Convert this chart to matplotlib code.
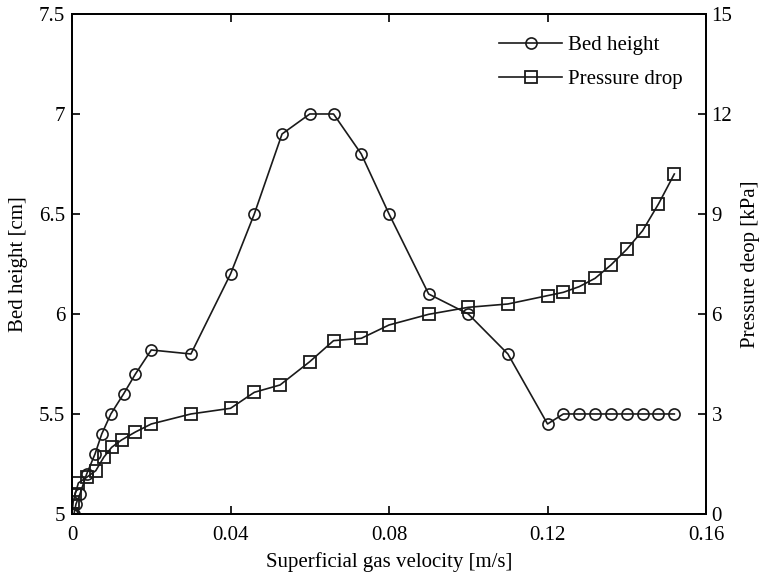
import matplotlib
matplotlib.use("Agg")
import matplotlib.pyplot as plt

plt.rcParams["font.family"] = ["Liberation Serif", "DejaVu Serif"]
plt.rcParams["font.size"] = 15

# 床高さ (cm)
vel_bed = [0, 0.0005, 0.001, 0.002, 0.0037, 0.0058, 0.0075, 0.0098, 0.013, 0.016,
           0.02, 0.03, 0.04, 0.046, 0.053, 0.06, 0.066, 0.073, 0.08, 0.09,
           0.10, 0.11, 0.12, 0.124, 0.128, 0.132, 0.136, 0.14, 0.144, 0.148, 0.152]
bed_height = [5.0, 5.0, 5.05, 5.1, 5.2, 5.3, 5.4, 5.5, 5.6, 5.7,
              5.82, 5.8, 6.2, 6.5, 6.9, 7.0, 7.0, 6.8, 6.5, 6.1,
              6.0, 5.8, 5.45, 5.5, 5.5, 5.5, 5.5, 5.5, 5.5, 5.5, 5.5]

# 圧力損失 (kPa)
vel_dp = [0, 0.0003, 0.0008, 0.0016, 0.0037, 0.006, 0.008, 0.01, 0.0125, 0.016,
          0.02, 0.03, 0.04, 0.046, 0.0525, 0.06, 0.066, 0.073, 0.08, 0.09,
          0.10, 0.11, 0.12, 0.124, 0.128, 0.132, 0.136, 0.14, 0.144, 0.148, 0.152]
pressure_drop = [0, 0.37, 0.6, 0.93, 1.1, 1.3, 1.7, 2.0, 2.22, 2.46,
                 2.7, 3.0, 3.17, 3.65, 3.87, 4.57, 5.2, 5.27, 5.67, 5.99,
                 6.2, 6.3, 6.55, 6.65, 6.82, 7.07, 7.47, 7.94, 8.5, 9.3, 10.2]

x_ticks = [0, 0.04, 0.08, 0.12, 0.16]
x_labels = ["0", "0.04", "0.08", "0.12", "0.16"]
left_ticks = [5, 5.5, 6, 6.5, 7, 7.5]
left_labels = ["5", "5.5", "6", "6.5", "7", "7.5"]
right_ticks = [0, 3, 6, 9, 12, 15]

fig = plt.figure(figsize=(7.59, 5.83), dpi=100)
ax = fig.add_axes([0.0949, 0.1184, 0.8353, 0.8576])
ax2 = ax.twinx()

l1, = ax.plot(vel_bed, bed_height, "-", color="#1a1a1a", lw=1.2,
              marker="o", ms=8, mfc="none", mec="#1a1a1a", mew=1.2)
l2, = ax2.plot(vel_dp, pressure_drop, "-", color="#1a1a1a", lw=1.2,
               marker="s", ms=9, mfc="none", mec="#1a1a1a", mew=1.3)

ax.set_xlim(0, 0.16)
ax.set_ylim(5, 7.5)
ax2.set_ylim(0, 15)

ax.set_xticks(x_ticks)
ax.set_xticklabels(x_labels)
ax.set_yticks(left_ticks)
ax.set_yticklabels(left_labels)
ax2.set_yticks(right_ticks)

ax.tick_params(axis="x", direction="in", length=6, width=1.2, top=True, pad=9)
ax.tick_params(axis="y", direction="in", length=6, width=1.2, pad=5)
ax2.tick_params(axis="y", direction="in", length=6, width=1.2, pad=4)
for a in (ax, ax2):
    for s in a.spines.values():
        s.set_linewidth(1.3)

ax.set_xlabel("Superficial gas velocity [m/s]", labelpad=5)
ax.set_ylabel("Bed height [cm]", labelpad=8)
ax2.set_ylabel("Pressure deop [kPa]", labelpad=6)

ax2.legend([l1, l2], ["Bed height", "Pressure drop"], loc="upper right",
           bbox_to_anchor=(0.993, 0.995), frameon=False, handlelength=3.0,
           handletextpad=0.3, labelspacing=0.7, fontsize=15)

fig.savefig("out.png", dpi=100)
